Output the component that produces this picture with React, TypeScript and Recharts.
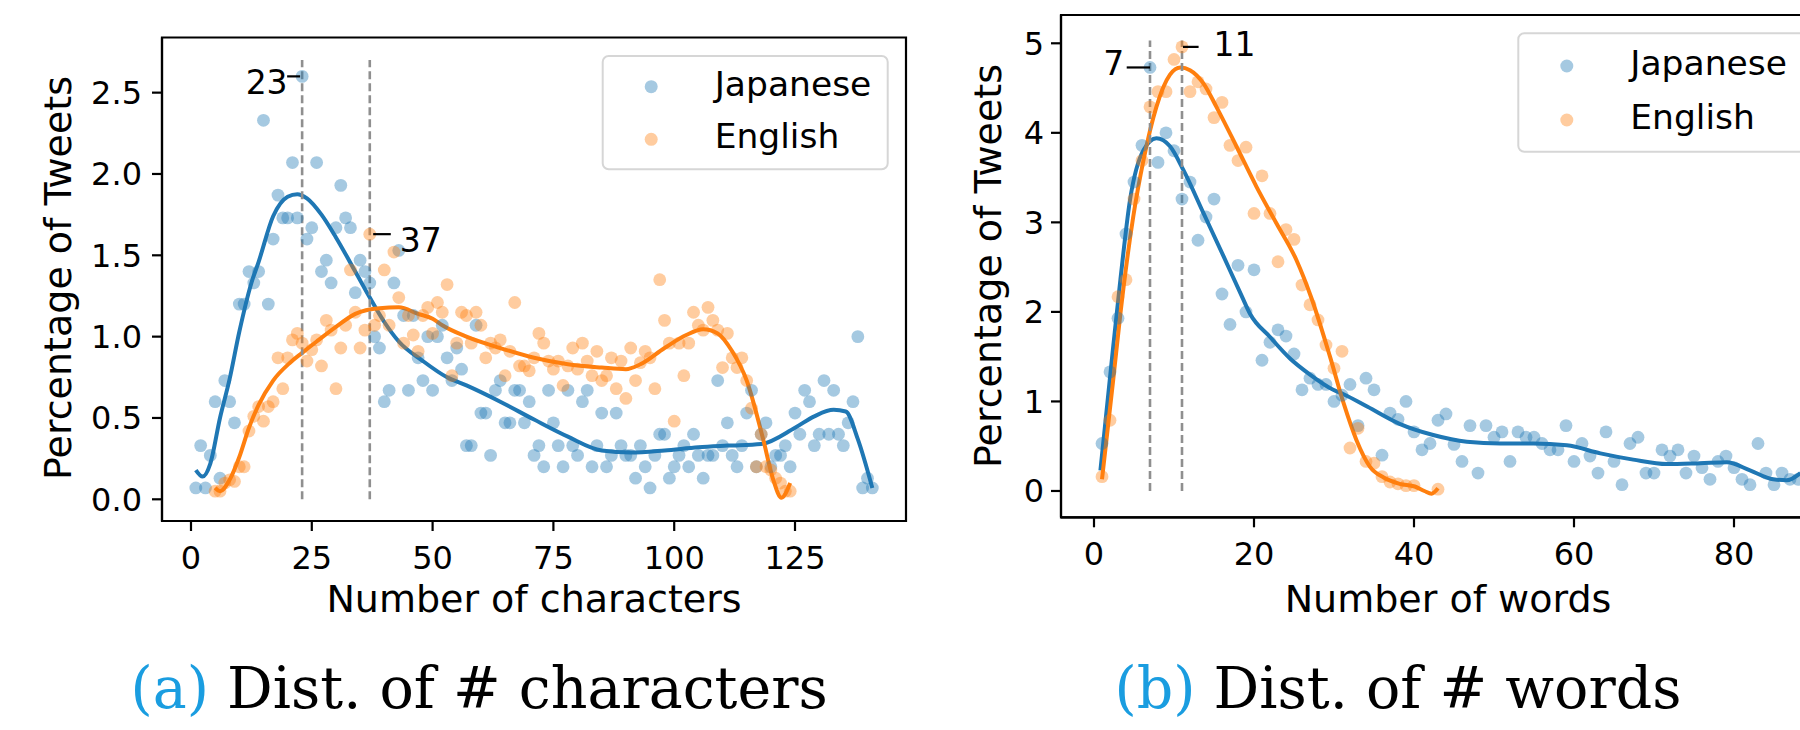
import React from 'react';
import {
    ComposedChart, Scatter, Line, XAxis, YAxis, ReferenceLine, ReferenceDot, ReferenceArea
} from 'recharts';

const BLUE = '#1f77b4';
const ORANGE = '#ff7f0e';

// (a) Dist. of # characters : share of tweets per length, x starts at charsJpStart / charsEnStart
const charsJpStart = 1;
const charsJp = [
    0.07, 0.33, 0.07, 0.27, 0.60, 0.13, 0.73, 0.60, 0.47, 1.20,
    1.20, 1.40, 1.33, 1.40, 2.33, 1.20, 1.60, 1.87, 1.73, 1.73,
    2.07, 1.73, 2.60, 1.60, 1.67, 2.07, 1.40, 1.47, 1.33, 1.67,
    1.93, 1.73, 1.67, 1.27, 1.47, 1.40, 1.33, 1.00, 0.93, 0.60,
    0.67, 1.33, 1.53, 1.13, 0.67, 1.13, 0.87, 0.73, 1.00, 0.67,
    1.00, 1.07, 0.87, 0.73, 0.93, 0.80, 0.33, 0.33, 1.07, 0.53,
    0.53, 0.27, 0.67, 0.73, 0.47, 0.47, 0.67, 0.67, 0.47, 0.60,
    0.27, 0.33, 0.20, 0.67, 0.47, 0.33, 0.20, 0.67, 0.33, 0.27,
    0.60, 0.67, 0.20, 0.33, 0.53, 0.20, 0.27, 0.53, 0.33, 0.27,
    0.27, 0.13, 0.33, 0.20, 0.07, 0.27, 0.40, 0.40, 0.13, 0.20,
    0.27, 0.33, 0.20, 0.40, 0.27, 0.13, 0.27, 0.27, 0.73, 0.33,
    0.47, 0.27, 0.20, 0.33, 0.53, 0.67, 0.20, 0.40, 0.47, 0.20,
    0.27, 0.27, 0.33, 0.20, 0.53, 0.40, 0.67, 0.60, 0.33, 0.40,
    0.73, 0.40, 0.67, 0.40, 0.33, 0.47, 0.60, 1.00, 0.07, 0.13,
    0.07,
];
const charsEnStart = 5;
const charsEn = [
    0.05, 0.05, 0.10, 0.12, 0.11, 0.20, 0.20, 0.42, 0.51, 0.57,
    0.48, 0.57, 0.60, 0.87, 0.68, 0.87, 0.98, 1.02, 0.96, 0.85,
    0.92, 0.98, 0.82, 1.10, 1.04, 0.68, 0.93, 1.07, 1.41, 1.15,
    0.93, 1.04, 1.63, 1.07, 1.13, 1.41, 1.07, 1.52, 1.24, 0.96,
    1.13, 1.01, 0.91, 1.13, 1.18, 1.02, 1.21, 1.15, 1.32, 0.76,
    0.96, 1.15, 1.13, 0.96, 1.15, 1.07, 0.87, 0.96, 0.93, 0.98,
    0.76, 0.91, 1.21, 0.82, 0.82, 0.79, 0.87, 1.02, 0.96, 0.85,
    0.80, 0.85, 0.70, 0.82, 0.93, 0.80, 0.96, 0.85, 0.76, 0.91,
    0.73, 0.76, 0.87, 0.68, 0.85, 0.62, 0.93, 0.73, 0.84, 0.91,
    0.87, 0.68, 1.35, 1.10, 0.96, 0.48, 0.96, 0.76, 0.96, 1.15,
    1.07, 1.04, 1.18, 1.10, 1.04, 0.81, 1.02, 0.87, 0.81, 0.87,
    0.73, 0.56, 0.20, 0.40, 0.20, 0.18, 0.13, 0.10, 0.05, 0.05,
];
const charsJpFitX = [1, 2.4, 4, 6, 8, 10, 12.5, 14, 17, 20, 22, 24, 27, 30, 34, 37, 40, 43, 48, 53, 57, 64, 71, 78, 85, 91, 98, 105, 111, 118, 125, 129, 133, 135.5, 138, 141];
const charsJpFitY = [0.18, 0.14, 0.22, 0.5, 0.74, 1.03, 1.33, 1.46, 1.74, 1.86, 1.876, 1.85, 1.75, 1.61, 1.4, 1.24, 1.09, 0.97, 0.85, 0.75, 0.7, 0.6, 0.49, 0.385, 0.3, 0.287, 0.3, 0.32, 0.33, 0.34, 0.44, 0.51, 0.55, 0.54, 0.37, 0.07];
const charsEnFitX = [5, 6, 8, 10, 12, 14, 17, 20.5, 23, 26, 30, 34, 39, 43, 47, 50, 52, 57, 64, 71, 78, 85, 90, 93, 98, 102.5, 106, 109, 112, 115, 118.4, 120.5, 122.2, 124];
const charsEnFitY = [0.07, 0.05, 0.12, 0.26, 0.44, 0.58, 0.73, 0.84, 0.9, 0.97, 1.06, 1.14, 1.175, 1.18, 1.14, 1.11, 1.07, 1.0, 0.93, 0.87, 0.83, 0.81, 0.8, 0.83, 0.93, 1.01, 1.045, 1.02, 0.91, 0.73, 0.37, 0.12, 0.01, 0.1];
const charsXTicks = [0, 25, 50, 75, 100, 125];
const charsYTicks = [0, 0.5, 1.0, 1.5, 2.0, 2.5];
const charsPeaks = [23, 37];
const charsNotes = [
    { x: 23, y: 2.6, label: '23' },
    { x: 37, y: 1.63, label: '37' },
];

// (b) Dist. of # words
const wordsJpStart = 1;
const wordsJp = [
    0.53, 1.33, 1.93, 2.87, 3.45, 3.86, 4.73, 3.67, 4.00, 3.80,
    3.26, 3.45, 2.80, 3.06, 3.26, 2.20, 1.86, 2.52, 2.00, 2.47,
    1.46, 1.66, 1.80, 1.73, 1.53, 1.13, 1.26, 1.19, 1.19, 1.00,
    1.07, 1.19, 0.73, 1.26, 1.13, 0.40, 0.87, 0.80, 1.00, 0.66,
    0.46, 0.53, 0.79, 0.86, 0.52, 0.33, 0.73, 0.20, 0.73, 0.60,
    0.66, 0.33, 0.66, 0.60, 0.60, 0.53, 0.46, 0.46, 0.73, 0.33,
    0.53, 0.39, 0.20, 0.66, 0.33, 0.07, 0.53, 0.60, 0.20, 0.20,
    0.46, 0.39, 0.46, 0.20, 0.39, 0.26, 0.13, 0.33, 0.39, 0.26,
    0.13, 0.07, 0.53, 0.20, 0.07, 0.20, 0.13, 0.13,
];
const wordsEnStart = 1;
const wordsEn = [
    0.16, 0.79, 2.17, 2.36, 3.26, 3.69, 4.29, 4.46, 4.46, 4.82,
    4.96, 4.46, 4.57, 4.49, 4.17, 4.34, 3.86, 3.69, 3.84, 3.10,
    3.52, 3.10, 2.56, 2.92, 2.81, 2.30, 2.08, 1.91, 1.63, 1.37,
    1.56, 0.48, 0.70, 0.33, 0.31, 0.16, 0.10, 0.08, 0.06, 0.06,
    null, null, 0.02,
];
const wordsJpFitX = [0.8, 2.4, 3.3, 4.5, 6.2, 7.8, 9.5, 11.2, 13.7, 16.2, 18.5, 19.5, 22, 24.5, 27, 29.9, 31.2, 34.2, 38.2, 42.4, 46.6, 50.8, 54.9, 59.1, 63.3, 67.4, 71.6, 75.8, 79.1, 82, 84.9, 86.6, 88.3];
const wordsJpFitY = [0.23, 1.61, 2.36, 3.25, 3.81, 3.94, 3.85, 3.58, 3.1, 2.62, 2.17, 1.98, 1.72, 1.48, 1.3, 1.13, 1.08, 0.94, 0.75, 0.625, 0.55, 0.53, 0.53, 0.51, 0.42, 0.35, 0.3, 0.31, 0.32, 0.23, 0.13, 0.12, 0.2];
const wordsEnFitX = [1, 2.4, 3.3, 4.9, 6.2, 7.8, 9.5, 10.8, 12, 13.7, 15.3, 17.8, 20.3, 22.8, 25.3, 27.2, 29.5, 31.2, 32.8, 34.5, 36.2, 38.2, 40.1, 41.3, 42.2, 43];
const wordsEnFitY = [0.13, 1.24, 1.98, 3.06, 3.7, 4.29, 4.65, 4.73, 4.7, 4.55, 4.29, 3.85, 3.4, 2.99, 2.58, 2.15, 1.5, 0.98, 0.57, 0.27, 0.15, 0.08, 0.05, 0.0, -0.03, 0.03];
const wordsXTicks = [0, 20, 40, 60, 80];
const wordsYTicks = [0, 1, 2, 3, 4, 5];
const wordsPeaks = [7, 11];
const wordsNotes = [
    { x: 7, y: 4.73, label: '7' },
    { x: 11, y: 4.96, label: '11' },
];

type Pt = { x: number; y: number };
const fromStart = (start: number, ys: (number | null)[]): Pt[] =>
    ys.map((y, i) => ({ x: start + i, y })).filter((p) => p.y !== null) as Pt[];
const zip = (xs: number[], ys: number[]): Pt[] => xs.map((x, i) => ({ x, y: ys[i] }));

const FONT = 'DejaVu Sans';

// where each annotation's text and leader sit relative to its point
const noteLayouts: Record<string, { l0: number; l1: number; tx: number; ty: number; anchor: 'start' | 'end' }> = {
    '23': { l0: -15, l1: -2, tx: -14.5, ty: 17.3, anchor: 'end' },
    '37': { l0: 3.4, l1: 21, tx: 30, ty: 17.4, anchor: 'start' },
    '7': { l0: -23.3, l1: 0, tx: -25.8, ty: 7.7, anchor: 'end' },
    '11': { l0: 1, l1: 16.6, tx: 31.5, ty: 9.3, anchor: 'start' },
};

const dotShape = (color: string) => (p: any) => (
    <circle cx={p.cx} cy={p.cy} r={6.4} fill={color} fillOpacity={0.4} />
);

const XTitle = ({ tx, ty, text }: any) => (
    <text x={tx} y={ty} textAnchor="middle" fontSize={38} fontFamily={FONT} fill="#000">{text}</text>
);
const YTitle = ({ tx, ty, text }: any) => (
    <text x={tx} y={ty} transform={`rotate(-90 ${tx} ${ty})`} textAnchor="middle" fontSize={38} fontFamily={FONT} fill="#000">{text}</text>
);

interface PanelProps {
    left: number;
    margin: { top: number; right: number; bottom: number; left: number };
    yAxisWidth: number;
    xDomain: [number, number];
    yDomain: [number, number];
    xTicks: number[];
    yTicks: number[];
    yDigits: number;
    jp: Pt[]; en: Pt[]; jpFit: Pt[]; enFit: Pt[];
    peaks: number[]; peakTop: number;
    notes: { x: number; y: number; label: string }[];
    xTitle: string; xTitlePos: [number, number];
    yTitlePos: [number, number];
    yTickMargin: number; xTickMargin: number;
}

function Panel(props: PanelProps) {
    const { xDomain, yDomain } = props;
    const axisStroke = { stroke: '#000', strokeWidth: 2.2 };
    return (
        <div style={{ position: 'absolute', left: props.left, top: 0 }}>
            <ComposedChart width={940} height={730} margin={props.margin}>
                <XAxis
                    type="number" dataKey="x" domain={xDomain} allowDataOverflow
                    ticks={props.xTicks} interval={0} height={60}
                    tickSize={10} tickMargin={props.xTickMargin}
                    axisLine={axisStroke} tickLine={axisStroke}
                    tick={{ fontSize: 32, fill: '#000', fontFamily: FONT }}
                    label={<XTitle tx={props.xTitlePos[0]} ty={props.xTitlePos[1]} text={props.xTitle} />}
                />
                <YAxis
                    type="number" dataKey="y" domain={yDomain} allowDataOverflow
                    ticks={props.yTicks} interval={0} width={props.yAxisWidth}
                    tickSize={10} tickMargin={props.yTickMargin}
                    tickFormatter={(v: number) => v.toFixed(props.yDigits)}
                    axisLine={axisStroke} tickLine={axisStroke}
                    tick={{ fontSize: 32, fill: '#000', fontFamily: FONT }}
                    label={<YTitle tx={props.yTitlePos[0]} ty={props.yTitlePos[1]} text="Percentage of Tweets" />}
                />
                <Scatter name="Japanese" data={props.jp} shape={dotShape(BLUE)} isAnimationActive={false} />
                <Scatter name="English" data={props.en} shape={dotShape(ORANGE)} isAnimationActive={false} />
                <Line data={props.jpFit} dataKey="y" type="monotone" stroke={BLUE} strokeWidth={4}
                    dot={false} activeDot={false} isAnimationActive={false} />
                <Line data={props.enFit} dataKey="y" type="monotone" stroke={ORANGE} strokeWidth={4}
                    dot={false} activeDot={false} isAnimationActive={false} />
                {props.peaks.map((p) => (
                    <ReferenceLine key={p} segment={[{ x: p, y: 0 }, { x: p, y: props.peakTop }]}
                        stroke="#8f8f8f" strokeWidth={2.6} strokeDasharray="8 4" />
                ))}
                {props.notes.map((n) => {
                    const s = noteLayouts[n.label];
                    return (
                        <ReferenceDot key={n.label} x={n.x} y={n.y} r={0}
                            shape={(p: any) => (
                                <g>
                                    <line x1={p.cx + s.l0} x2={p.cx + s.l1} y1={p.cy} y2={p.cy} stroke="#000" strokeWidth={2.2} />
                                    <text x={p.cx + s.tx} y={p.cy + s.ty} textAnchor={s.anchor} fontSize={33} fontFamily={FONT} fill="#000">{n.label}</text>
                                </g>
                            )}
                        />
                    );
                })}
                <ReferenceArea x1={xDomain[0]} x2={xDomain[1]} y1={yDomain[0]} y2={yDomain[1]}
                    fill="none" stroke="#000" strokeWidth={2.2} ifOverflow="visible" />
            </ComposedChart>
        </div>
    );
}

// legend box drawn in page coordinates
function LegendBox({ x, y, w, h, rows }: { x: number; y: number; w: number; h: number; rows: { label: string; color: string; my: number }[] }) {
    return (
        <g>
            <rect x={x} y={y} width={w} height={h} rx={6} fill="#fff" fillOpacity={0.8} stroke="#d6d6d6" strokeWidth={2} />
            {rows.map((r) => (
                <g key={r.label}>
                    <circle cx={x + 48.5} cy={r.my} r={6.5} fill={r.color} fillOpacity={0.4} />
                    <text x={x + 112} y={r.my + 8.8} fontSize={34.5} fontFamily={FONT} fill="#000">{r.label}</text>
                </g>
            ))}
        </g>
    );
}

export default function App() {
    return (
        <div style={{ position: 'absolute', left: 0, top: 0, width: 1800, height: 730, overflow: 'hidden', background: '#fff' }}>
            <Panel
                left={0}
                margin={{ top: 37.5, right: 34, bottom: 149, left: 0 }}
                yAxisWidth={162}
                xDomain={[-6, 147.97]}
                yDomain={[-0.1334, 2.839]}
                xTicks={charsXTicks}
                yTicks={charsYTicks}
                yDigits={1}
                jp={fromStart(charsJpStart, charsJp)}
                en={fromStart(charsEnStart, charsEn)}
                jpFit={zip(charsJpFitX, charsJpFitY)}
                enFit={zip(charsEnFitX, charsEnFitY)}
                peaks={charsPeaks}
                peakTop={2.7}
                notes={charsNotes}
                xTitle="Number of characters"
                xTitlePos={[534, 612]}
                yTitlePos={[70.7, 278]}
                yTickMargin={10}
                xTickMargin={15}
            />
            <Panel
                left={940}
                margin={{ top: 15, right: 45, bottom: 152.7, left: 0 }}
                yAxisWidth={121}
                xDomain={[-4.125, 92.625]}
                yDomain={[-0.294, 5.316]}
                xTicks={wordsXTicks}
                yTicks={wordsYTicks}
                yDigits={0}
                jp={fromStart(wordsJpStart, wordsJp)}
                en={fromStart(wordsEnStart, wordsEn)}
                jpFit={zip(wordsJpFitX, wordsJpFitY)}
                enFit={zip(wordsEnFitX, wordsEnFitY)}
                peaks={wordsPeaks}
                peakTop={5.03}
                notes={wordsNotes}
                xTitle="Number of words"
                xTitlePos={[508, 612]}
                yTitlePos={[60.7, 266]}
                yTickMargin={7}
                xTickMargin={15}
            />
            <svg width={1800} height={730} style={{ position: 'absolute', left: 0, top: 0, pointerEvents: 'none' }}>
                <LegendBox x={602.7} y={56} w={285} h={113.3}
                    rows={[{ label: 'Japanese', color: BLUE, my: 86.7 }, { label: 'English', color: ORANGE, my: 139.3 }]} />
                <LegendBox x={1518.3} y={33.3} w={400} h={118.4}
                    rows={[{ label: 'Japanese', color: BLUE, my: 66 }, { label: 'English', color: ORANGE, my: 120 }]} />
                <text x={130.5} y={708} fontSize={57} fontFamily="DejaVu Serif" fill="#000">
                    <tspan fill="#1a9de0">(a)</tspan>{' '}Dist. of # characters
                </text>
                <text x={1114.5} y={708} fontSize={57} fontFamily="DejaVu Serif" fill="#000">
                    <tspan fill="#1a9de0">(b)</tspan>{' '}Dist. of # words
                </text>
            </svg>
        </div>
    );
}
